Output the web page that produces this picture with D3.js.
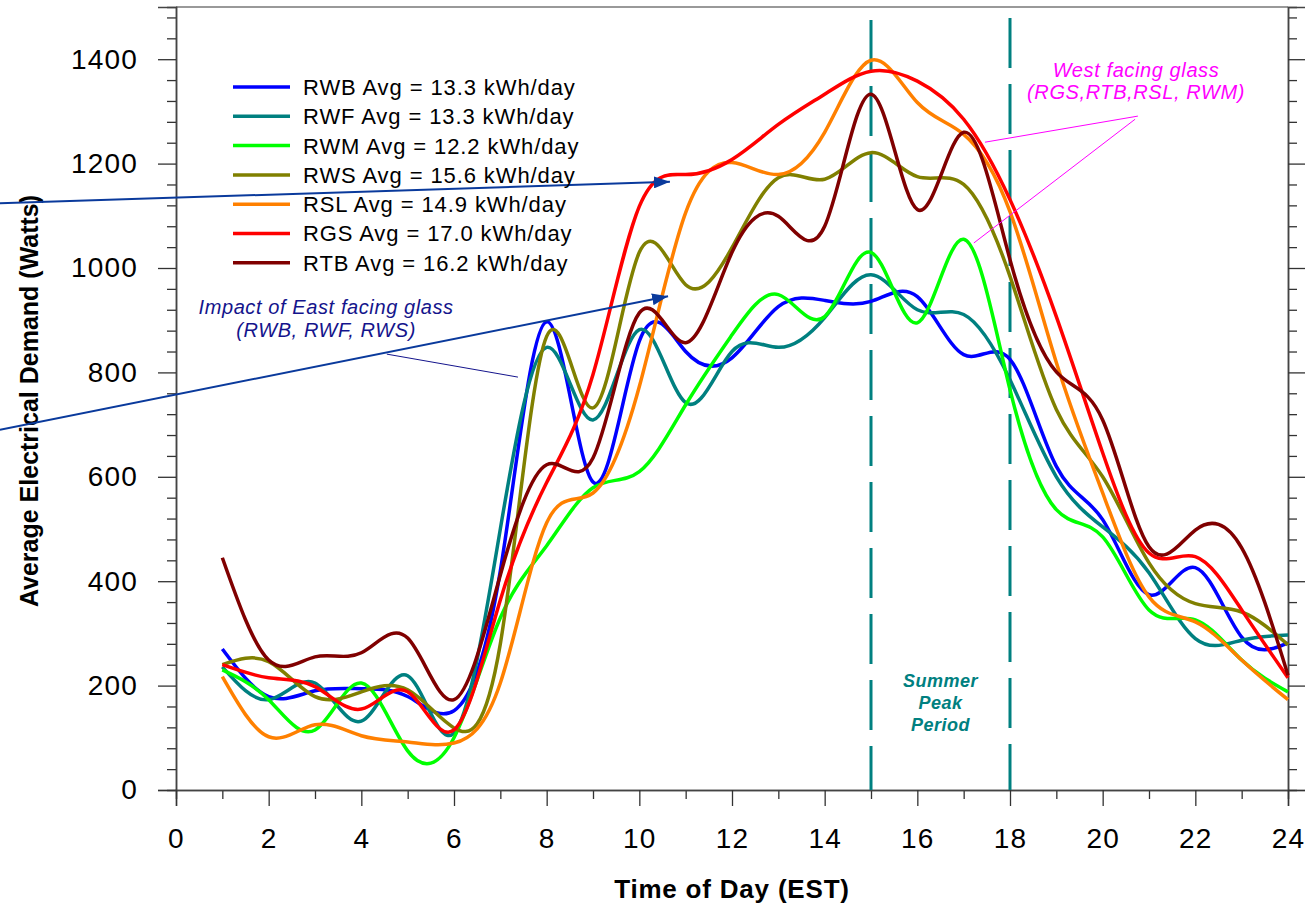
<!DOCTYPE html>
<html>
<head>
<meta charset="utf-8">
<script src="https://cdn.jsdelivr.net/npm/d3@7"></script>
<style>
  body { margin: 0; background: #fff; }
  text { font-family: "Liberation Sans", Arial, sans-serif; }
</style>
</head>
<body>
<div id="viz"></div>
<script>
'use strict';

// hour of day for each reading
const hours = [1, 2, 3, 4, 5, 6, 7, 8, 9, 10, 11, 12,
               13, 14, 15, 16, 17, 18, 19, 20, 21, 22, 23, 24];

const rwb = [270, 179, 190, 194, 179, 152, 420, 897, 590, 860, 840, 828,
             926, 938, 936, 945, 834, 825, 620, 518, 374, 426, 293, 282];
const rwf = [236, 173, 205, 132, 219, 109, 500, 848, 709, 882, 742, 840,
             848, 905, 987, 920, 911, 786, 600, 504, 416, 290, 287, 297];
const rwm = [230, 173, 115, 205, 75, 100, 330, 468, 579, 610, 738, 872,
             949, 907, 1030, 895, 1055, 767, 537, 485, 345, 326, 249, 188];
const rws = [240, 246, 179, 188, 192, 119, 280, 869, 732, 1030, 968, 1039,
             1173, 1170, 1221, 1175, 1160, 984, 729, 600, 435, 357, 341, 278];
const rsl = [217, 102, 125, 104, 92, 90, 205, 512, 569, 773, 1106, 1202,
             1179, 1260, 1398, 1317, 1256, 1108, 819, 569, 370, 322, 249, 173];
const rgs = [240, 215, 198, 155, 188, 115, 364, 589, 796, 1118, 1179, 1208,
             1275, 1333, 1377, 1358, 1285, 1131, 907, 646, 454, 447, 345, 215];
const rtb = [445, 249, 255, 263, 291, 173, 412, 623, 636, 914, 857, 1030,
             1099, 1080, 1333, 1112, 1260, 1016, 801, 709, 466, 498, 464, 220];

const names = ['RWB', 'RWF', 'RWM', 'RWS', 'RSL', 'RGS', 'RTB'];
const dailyAvg = ['13.3', '13.3', '12.2', '15.6', '14.9', '17.0', '16.2'];
const colors = ['#0000ff', '#008080', '#00ff00', '#808000', '#ff8000', '#ff0000', '#800000'];
const seriesValues = [rwb, rwf, rwm, rws, rsl, rgs, rtb];

const xTicks = [0, 2, 4, 6, 8, 10, 12, 14, 16, 18, 20, 22, 24];
const yTicks = [0, 200, 400, 600, 800, 1000, 1200, 1400];
const peakHours = [15, 18];

const W = 1307, H = 907;
const margin = {top: 7, right: 19, bottom: 117, left: 176};
const width = W - margin.left - margin.right;
const height = H - margin.top - margin.bottom;

const svg = d3.select('#viz')
  .append('svg')
    .attr('width', W)
    .attr('height', H)
  .append('g')
    .attr('transform', 'translate(' + margin.left + ',' + margin.top + ')');

const x = d3.scaleLinear().domain([0, 24]).range([0, width]);
const y = d3.scaleLinear().domain([0, 1500]).range([height, 0]);

const minorY = d3.range(0, 1500, 40).filter(v => v % 200 !== 0);
const minorX = d3.range(1, 24, 2);

// frame
svg.append('line')
  .attr('x1', 0).attr('x2', width).attr('y1', 0).attr('y2', 0)
  .attr('stroke', '#777').attr('stroke-width', 1.5);

function styleAxis(g) {
  g.select('.domain').attr('stroke', '#444').attr('stroke-width', 1.5);
  g.selectAll('.tick line').attr('stroke', '#333').attr('stroke-width', 1.3);
  g.selectAll('.tick text')
    .attr('fill', '#000')
    .style('font-size', '28px')
    .style('letter-spacing', '1.2px');
}

// left axis
svg.append('g')
  .call(d3.axisLeft(y).tickValues(minorY).tickSize(9).tickFormat(''))
  .call(styleAxis);
svg.append('g')
  .call(d3.axisLeft(y).tickValues(yTicks).tickSize(18).tickPadding(20).tickFormat(d3.format('d')))
  .call(styleAxis);

// right axis
svg.append('g')
  .attr('transform', `translate(${width},0)`)
  .call(d3.axisRight(y).tickValues(minorY).tickSize(9).tickFormat(''))
  .call(styleAxis);
svg.append('g')
  .attr('transform', `translate(${width},0)`)
  .call(d3.axisRight(y).tickValues(yTicks).tickSize(17).tickFormat(''))
  .call(styleAxis);

// bottom axis
svg.append('g')
  .attr('transform', `translate(0,${height})`)
  .call(d3.axisBottom(x).tickValues(minorX).tickSize(9).tickFormat(''))
  .call(styleAxis);
svg.append('g')
  .attr('transform', `translate(0,${height})`)
  .call(d3.axisBottom(x).tickValues(xTicks).tickSize(16).tickPadding(22))
  .call(styleAxis);

// axis titles
svg.append('text')
  .attr('x', width / 2)
  .attr('y', H - margin.top - 9)
  .attr('text-anchor', 'middle')
  .style('font-size', '26px')
  .style('font-weight', 'bold')
  .style('letter-spacing', '0.8px')
  .text('Time of Day (EST)');

svg.append('text')
  .attr('transform', `translate(${38 - margin.left},${401 - margin.top}) rotate(-90)`)
  .attr('text-anchor', 'middle')
  .style('font-size', '25px')
  .style('font-weight', 'bold')
  .text('Average Electrical Demand (Watts)');

// summer peak period markers
svg.selectAll('.peak')
  .data(peakHours)
  .enter().append('line')
    .attr('x1', d => x(d)).attr('x2', d => x(d))
    .attr('y1', (d, i) => i === 0 ? 13 : 11)
    .attr('y2', height)
    .attr('stroke', '#008080')
    .attr('stroke-width', 3)
    .attr('stroke-dasharray', '50,16');

const peakLabel = ['Summer', 'Peak', 'Period'];
const peakLabelY = [197, 155, 113];
svg.selectAll('.peaklabel')
  .data(peakLabel)
  .enter().append('text')
    .attr('x', x(16.5))
    .attr('y', (d, i) => y(peakLabelY[i]))
    .attr('text-anchor', 'middle')
    .attr('fill', '#008080')
    .style('font-size', '18px')
    .style('font-weight', 'bold')
    .style('font-style', 'italic')
    .style('letter-spacing', '0.5px')
    .text(d => d);

// series
const line = d3.line()
  .x((d, i) => x(hours[i]))
  .y(d => y(d))
  .curve(d3.curveNatural);

seriesValues.forEach((vals, k) => {
  svg.append('path')
    .datum(vals)
    .attr('fill', 'none')
    .attr('stroke', colors[k])
    .attr('stroke-width', 3.5)
    .attr('stroke-linejoin', 'round')
    .attr('d', line);
});

// annotations
const defs = d3.select('svg').append('defs');
defs.append('marker')
  .attr('id', 'head')
  .attr('markerUnits', 'userSpaceOnUse')
  .attr('viewBox', '0 0 16 12')
  .attr('markerWidth', 16)
  .attr('markerHeight', 12)
  .attr('refX', 16)
  .attr('refY', 6)
  .attr('orient', 'auto')
  .append('path')
    .attr('d', 'M0,0 L16,6 L0,12 Z')
    .attr('fill', '#0a3a9c');

const arrows = [
  {from: [-3.8, 1124], to: [10.66, 1165]},
  {from: [-3.8, 690], to: [10.62, 946]}
];
svg.selectAll('.arrow')
  .data(arrows)
  .enter().append('line')
    .attr('x1', d => x(d.from[0])).attr('y1', d => y(d.from[1]))
    .attr('x2', d => x(d.to[0])).attr('y2', d => y(d.to[1]))
    .attr('stroke', '#0a3a9c')
    .attr('stroke-width', 2)
    .attr('marker-end', 'url(#head)');

const eastText = ['Impact of East facing glass', '(RWB, RWF, RWS)'];
const eastY = [912, 868];
svg.selectAll('.east')
  .data(eastText)
  .enter().append('text')
    .attr('x', x(3.24))
    .attr('y', (d, i) => y(eastY[i]))
    .attr('text-anchor', 'middle')
    .attr('fill', '#14148c')
    .style('font-size', '20px')
    .style('font-style', 'italic')
    .style('letter-spacing', '0.6px')
    .text(d => d);

svg.append('line')
  .attr('x1', x(4.55)).attr('y1', y(835))
  .attr('x2', x(7.38)).attr('y2', y(791))
  .attr('stroke', '#14148c')
  .attr('stroke-width', 1);

const westText = ['West facing glass', '(RGS,RTB,RSL, RWM)'];
const westY = [1366, 1324];
svg.selectAll('.west')
  .data(westText)
  .enter().append('text')
    .attr('x', x(20.72))
    .attr('y', (d, i) => y(westY[i]))
    .attr('text-anchor', 'middle')
    .attr('fill', '#ff00ff')
    .style('font-size', '20px')
    .style('font-style', 'italic')
    .style('letter-spacing', '0.6px')
    .text(d => d);

const westLeaders = [
  {from: [20.76, 1291], to: [17.46, 1241]},
  {from: [20.70, 1285], to: [17.22, 1048]}
];
svg.selectAll('.wl')
  .data(westLeaders)
  .enter().append('line')
    .attr('x1', d => x(d.from[0])).attr('y1', d => y(d.from[1]))
    .attr('x2', d => x(d.to[0])).attr('y2', d => y(d.to[1]))
    .attr('stroke', '#ff00ff')
    .attr('stroke-width', 1);

// legend
const legend = svg.append('g')
  .attr('transform', `translate(${233 - margin.left},${87 - margin.top})`);

names.forEach((n, i) => {
  const row = legend.append('g').attr('transform', `translate(0,${i * 29.3})`);
  row.append('line')
    .attr('x1', 0).attr('x2', 57)
    .attr('stroke', colors[i])
    .attr('stroke-width', 3.5);
  row.append('text')
    .attr('x', 70)
    .attr('dy', '0.36em')
    .style('font-size', '22px')
    .style('letter-spacing', '0.9px')
    .text(`${n} Avg = ${dailyAvg[i]} kWh/day`);
});
</script>
</body>
</html>
